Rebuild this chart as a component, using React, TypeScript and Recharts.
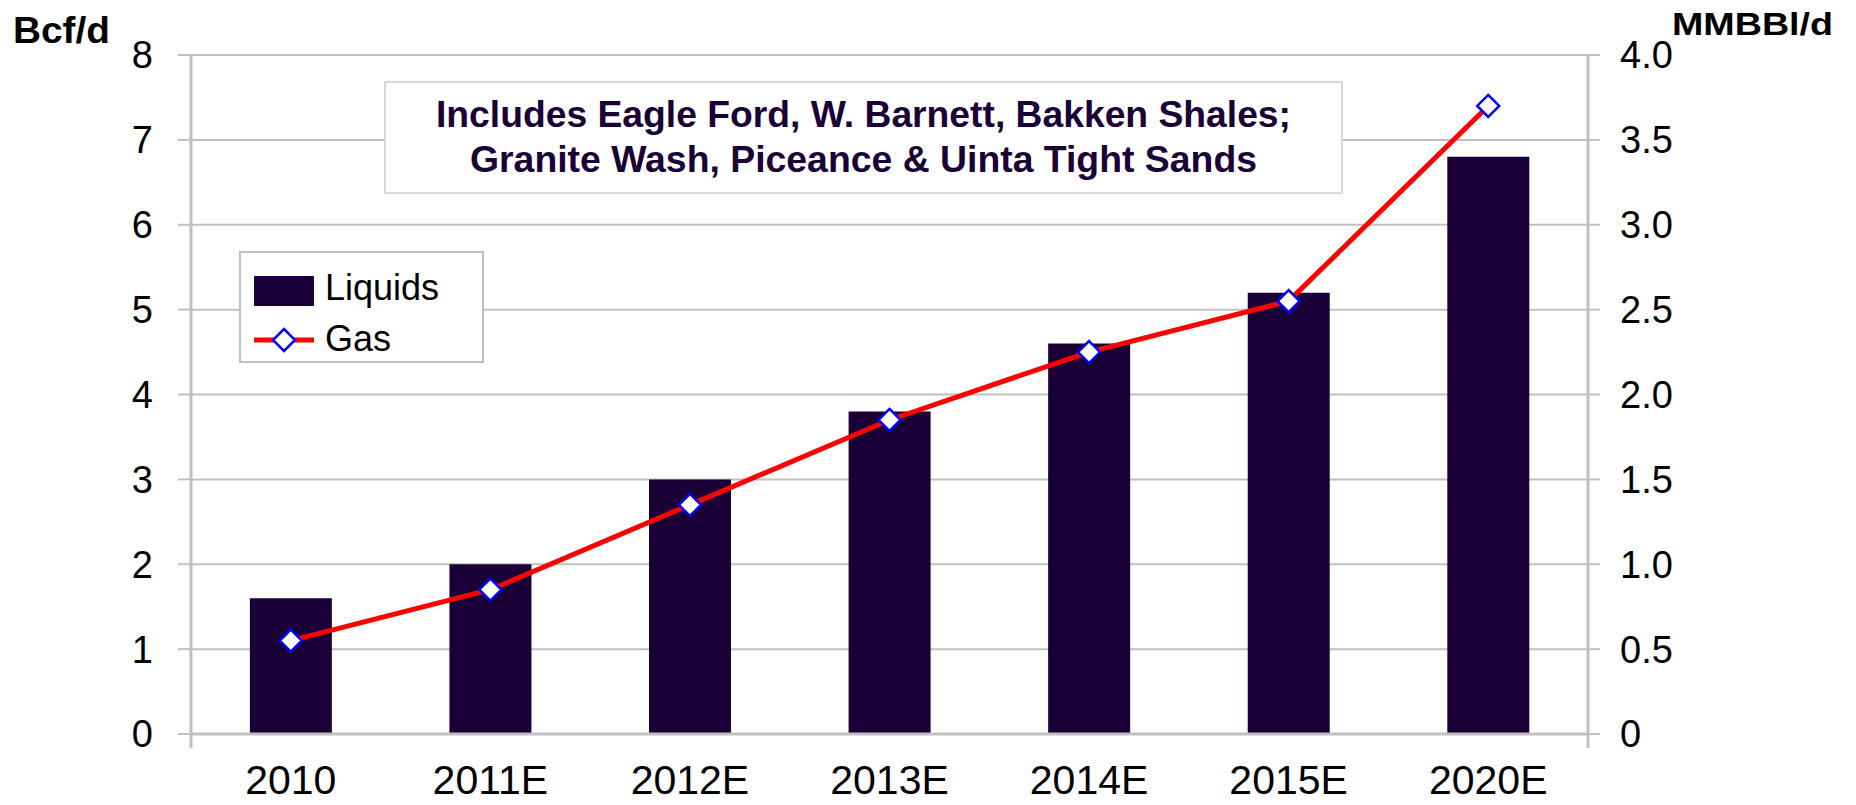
import React from 'react';
import { ComposedChart, Bar, Line, XAxis, YAxis, CartesianGrid, Legend, Customized } from 'recharts';

const categories = ['2010', '2011E', '2012E', '2013E', '2014E', '2015E', '2020E'];
const liquids = [1.6, 2.0, 3.0, 3.8, 4.6, 5.2, 6.8];
const gas = [0.55, 0.85, 1.35, 1.85, 2.25, 2.55, 3.7];
const leftTicks = [0, 1, 2, 3, 4, 5, 6, 7, 8];
const rightTicks = [0, 0.5, 1, 1.5, 2, 2.5, 3, 3.5, 4];
const liquidsName = 'Liquids';
const gasName = 'Gas';
const leftUnit = 'Bcf/d';
const rightUnit = 'MMBBl/d';
const noteLines = ['Includes Eagle Ford, W. Barnett, Bakken Shales;', 'Granite Wash, Piceance & Uinta Tight Sands'];

const data = categories.map((c, i) => ({ category: c, liquids: liquids[i], gas: gas[i] }));

const W = 1856;
const H = 805;
const TOP = 55;
const LEFT_W = 191;
const RIGHT_W = 268;
const X_H = 71;
const FONT = '"Liberation Sans", Arial, Helvetica, sans-serif';
const BAR = '#1a0036';
const RED = '#ff0000';
const BLUE = '#0000ff';
const GRID = '#c0c0c0';

const Diamond = (props: any) => {
  const { cx, cy } = props;
  if (cx == null || cy == null) return null;
  const r = 11;
  return (
    <path
      d={`M${cx},${cy - r}L${cx + r},${cy}L${cx},${cy + r}L${cx - r},${cy}Z`}
      fill="#ffffff"
      stroke={BLUE}
      strokeWidth={2.5}
    />
  );
};

const renderLegend = () => (
  <svg width={245} height={112} style={{ display: 'block' }}>
    <rect x={1} y={1} width={243} height={110} fill="#ffffff" stroke={GRID} strokeWidth={2} />
    <rect x={15} y={25} width={60} height={30} fill={BAR} />
    <text x={86} y={49} fontFamily={FONT} fontSize={36} fill="#000">{liquidsName}</text>
    <line x1={15} x2={75} y1={89} y2={89} stroke={RED} strokeWidth={5} />
    <path d="M45,78L56,89L45,100L34,89Z" fill="#fff" stroke={BLUE} strokeWidth={2.5} />
    <text x={86} y={100} fontFamily={FONT} fontSize={36} fill="#000">{gasName}</text>
  </svg>
);

const Overlay = () => {
  const plotBottom = H - X_H;
  const plotRight = W - RIGHT_W;
  return (
    <g>
      <line x1={LEFT_W} x2={LEFT_W} y1={plotBottom} y2={plotBottom + 14} stroke={GRID} strokeWidth={3} />
      <line x1={plotRight} x2={plotRight} y1={plotBottom} y2={plotBottom + 14} stroke={GRID} strokeWidth={3} />
      <rect x={385} y={82} width={957} height={111} fill="#ffffff" stroke="#d9d9d9" strokeWidth={2} />
      <text x={863.5} y={127} textAnchor="middle" fontFamily={FONT} fontWeight="bold" fontSize={37} fill={BAR}
        textLength={855} lengthAdjust="spacingAndGlyphs">{noteLines[0]}</text>
      <text x={863.5} y={171.5} textAnchor="middle" fontFamily={FONT} fontWeight="bold" fontSize={37} fill={BAR}
        textLength={787} lengthAdjust="spacingAndGlyphs">{noteLines[1]}</text>
      <text x={13} y={42.5} fontFamily={FONT} fontWeight="bold" fontSize={36} fill="#000"
        textLength={97} lengthAdjust="spacingAndGlyphs">{leftUnit}</text>
      <text x={1672} y={35} fontFamily={FONT} fontWeight="bold" fontSize={32} fill="#000"
        textLength={161} lengthAdjust="spacingAndGlyphs">{rightUnit}</text>
    </g>
  );
};

export default function App() {
  return (
    <div style={{ position: 'absolute', left: 0, top: 0, width: W, height: H, background: '#fff' }}>
      <ComposedChart
        width={W}
        height={H}
        data={data}
        margin={{ top: TOP, right: 0, bottom: 0, left: 0 }}
        barCategoryGap="29.5%"
      >
        <CartesianGrid yAxisId="left" vertical={false} stroke={GRID} strokeWidth={2} />
        <XAxis
          dataKey="category"
          height={X_H}
          axisLine={{ stroke: GRID, strokeWidth: 3 }}
          tickLine={false}
          tickSize={0}
          tickMargin={31}
          tick={{ fontSize: 41, fill: '#000', fontFamily: FONT }}
          interval={0}
        />
        <YAxis
          yAxisId="left"
          orientation="left"
          width={LEFT_W}
          domain={[0, 8]}
          ticks={leftTicks}
          interval={0}
          axisLine={{ stroke: GRID, strokeWidth: 3 }}
          tickLine={{ stroke: GRID, strokeWidth: 2 }}
          tickSize={13}
          tickMargin={25}
          tick={{ fontSize: 38, fill: '#000', fontFamily: FONT }}
        />
        <YAxis
          yAxisId="right"
          orientation="right"
          width={RIGHT_W}
          domain={[0, 4]}
          ticks={rightTicks}
          interval={0}
          tickFormatter={(v: number) => (v === 0 ? '0' : v.toFixed(1))}
          axisLine={{ stroke: GRID, strokeWidth: 3 }}
          tickLine={{ stroke: GRID, strokeWidth: 2 }}
          tickSize={12}
          tickMargin={20}
          tick={{ fontSize: 38, fill: '#000', fontFamily: FONT }}
        />
        <Customized component={<Overlay />} />
        <Bar yAxisId="left" dataKey="liquids" name={liquidsName} fill={BAR} isAnimationActive={false} />
        <Line
          yAxisId="right"
          dataKey="gas"
          name={gasName}
          type="linear"
          stroke={RED}
          strokeWidth={5}
          dot={<Diamond />}
          activeDot={false}
          isAnimationActive={false}
        />
        <Legend
          layout="vertical"
          align="center"
          verticalAlign="middle"
          content={renderLegend}
          wrapperStyle={{ left: 239, top: 251, width: 245, height: 112, right: 'auto', bottom: 'auto' }}
        />
      </ComposedChart>
    </div>
  );
}
